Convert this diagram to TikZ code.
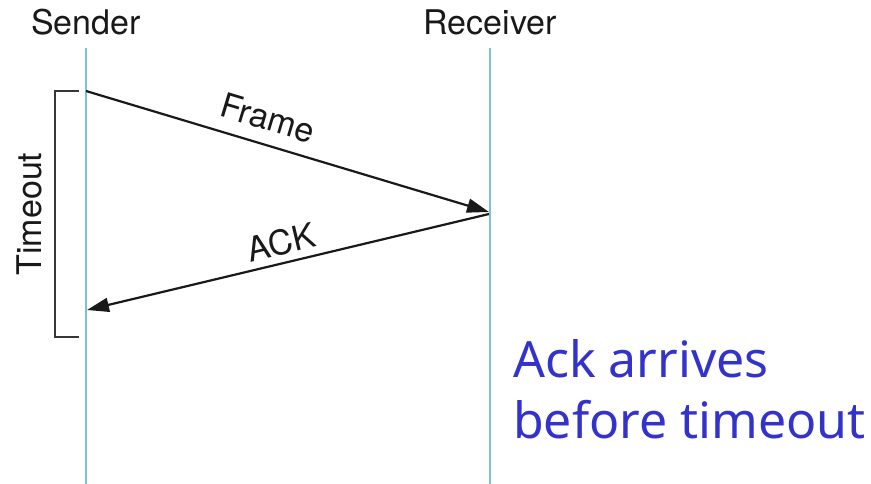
\documentclass[tikz,border=0pt]{standalone}
\usepackage{fontspec}
\setmainfont{TeX Gyre Heros}
\newfontfamily\notefont{Noto Sans}
\usetikzlibrary{arrows.meta}
\definecolor{lifeblue}{RGB}{125,192,222}
\definecolor{noteblue}{RGB}{51,51,204}
\definecolor{bracketgray}{RGB}{55,55,55}
\tikzset{
  lifeline/.style={draw=lifeblue, line width=1.8pt},
  msg/.style={draw=black!90, line width=2.2pt, -{Triangle[length=22pt,width=14pt]}},
  lbl/.style={font=\fontsize{34}{40}\selectfont, text=black!90, inner sep=0pt},
  note/.style={font=\notefont\fontsize{50}{61}\selectfont, text=noteblue, inner sep=0pt, anchor=base west},
}
\begin{document}
\begin{tikzpicture}[x=1pt,y=-1pt]
  \useasboundingbox (0,0) rectangle (871,484);

  % participants
  \node[lbl, anchor=base] (snd) at (86,35) {Sender};
  \node[lbl, anchor=base] (rcv) at (490,35) {Receiver};

  % lifelines
  \coordinate (stop) at (86,48);
  \coordinate (sbot) at (86,484);
  \coordinate (rtop) at (490,48);
  \coordinate (rbot) at (490,484);
  \draw[lifeline] (stop) -- (sbot);
  \draw[lifeline] (rtop) -- (rbot);

  % messages
  \coordinate (fsend) at (86,91);
  \coordinate (frecv) at (489,212);
  \coordinate (asend) at (489,214);
  \coordinate (arecv) at (87,310);
  \draw[msg] (fsend) -- (frecv);
  \draw[msg] (asend) -- (arecv);
  \node[lbl, rotate=-16.75] (flbl) at (268,118) {Frame};
  \node[lbl, rotate=13.5] (albl) at (281,242) {ACK};

  % timeout bracket
  \coordinate (bt) at (79,91);
  \coordinate (bb) at (79,337);
  \draw[draw=bracketgray, line width=2.2pt] (bt) -- (55,91) -- (55,337) -- (bb);
  \node[lbl, rotate=90] (tlbl) at (29,214) {Timeout};

  % note
  \node[note] (n1) at (513,377) {Ack arrives};
  \node[note] (n2) at (513,438) {before timeout};
\end{tikzpicture}
\end{document}
